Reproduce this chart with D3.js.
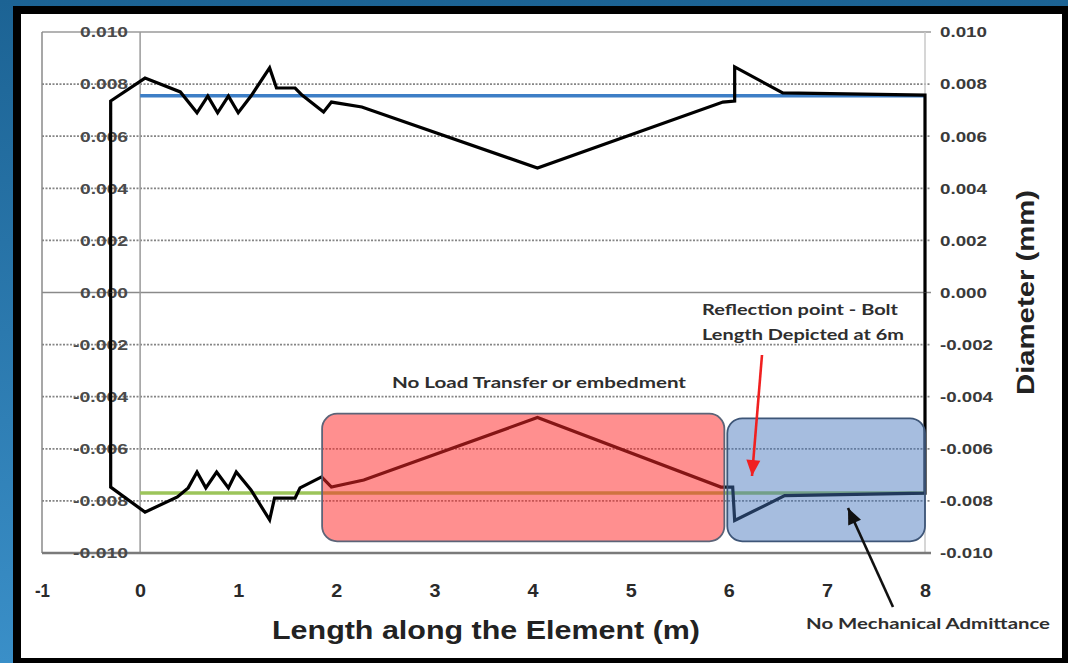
<!DOCTYPE html>
<html><head><meta charset="utf-8">
<script src="https://cdn.jsdelivr.net/npm/d3@7"></script>
<style>
html,body{margin:0;padding:0;background:#fff;}
svg{display:block;}
</style></head>
<body>
<svg id="chart" width="1068" height="663"></svg>
<script>
// ---- data ----
const xTicks = [-1, 0, 1, 2, 3, 4, 5, 6, 7, 8];
const yTicks = [-0.010, -0.008, -0.006, -0.004, -0.002, 0.000, 0.002, 0.004, 0.006, 0.008, 0.010];

const upperX = [-0.30, -0.30, 0.05, 0.41, 0.58, 0.69, 0.79, 0.90, 1.00, 1.13, 1.32, 1.39, 1.58, 1.65, 1.87, 1.95, 2.26, 4.05, 5.94, 6.06, 6.06, 6.55, 8.00, 8.00];
const upperY = [0.0000, 0.00735, 0.00823, 0.00770, 0.00690, 0.00754, 0.00690, 0.00754, 0.00690, 0.00754, 0.00862, 0.00785, 0.00785, 0.00758, 0.00693, 0.00731, 0.00712, 0.00478, 0.00731, 0.00735, 0.00866, 0.00766, 0.00758, 0.0000];

const lowerX = [-0.30, -0.30, 0.05, 0.38, 0.49, 0.58, 0.67, 0.78, 0.90, 0.98, 1.13, 1.32, 1.37, 1.58, 1.63, 1.85, 1.95, 2.28, 4.05, 5.92, 6.04, 6.06, 6.57, 8.00, 8.00];
const lowerY = [0.0000, -0.00747, -0.00843, -0.00785, -0.00750, -0.00689, -0.00750, -0.00689, -0.00750, -0.00689, -0.00758, -0.00873, -0.00789, -0.00789, -0.00750, -0.00708, -0.00747, -0.00720, -0.00480, -0.00747, -0.00747, -0.00875, -0.00780, -0.00770, 0.0000];

const blueX = [0, 8];
const blueY = [0.00755, 0.00755];
const greenX = [0, 8];
const greenY = [-0.00770, -0.00770];

// ---- layout ----
const svg = d3.select("#chart");
const W = 1068, H = 663;
const x = d3.scaleLinear().domain([-1, 8]).range([42, 925]);
const y = d3.scaleLinear().domain([-0.010, 0.010]).range([553, 32]);

// background
const defs = svg.append("defs");
const bg = defs.append("linearGradient").attr("id","bg").attr("x1",0).attr("y1",0).attr("x2",0).attr("y2",1);
bg.append("stop").attr("offset","0%").attr("stop-color","#1c6394");
bg.append("stop").attr("offset","100%").attr("stop-color","#3a8fc8");
svg.append("rect").attr("width",W).attr("height",H).attr("fill","url(#bg)");
svg.append("rect").attr("x",13).attr("y",6).attr("width",W-13).attr("height",H-6).attr("fill","#000");
svg.append("rect").attr("x",21).attr("y",14).attr("width",1041).attr("height",644).attr("fill","#fff");

// gridlines
const gridVals = yTicks.filter(v => Math.abs(v) > 1e-9 && Math.abs(Math.abs(v)-0.010) > 1e-9);
svg.append("g").selectAll("line").data(gridVals).join("line")
  .attr("x1", x(-1)).attr("x2", x(8) + 6)
  .attr("y1", d => y(d)).attr("y2", d => y(d))
  .attr("stroke","#858585").attr("stroke-width",1.8).attr("stroke-dasharray","2,1.5");

// plot borders / axes lines
svg.append("line").attr("x1",x(-1)).attr("x2",x(8)+6).attr("y1",y(0.010)).attr("y2",y(0.010)).attr("stroke","#9a9a9a").attr("stroke-width",1.5);
svg.append("line").attr("x1",x(-1)).attr("x2",x(8)+6).attr("y1",y(0)).attr("y2",y(0)).attr("stroke","#8a8a8a").attr("stroke-width",1.5);
svg.append("line").attr("x1",x(-1)).attr("x2",x(-1)).attr("y1",y(0.010)).attr("y2",y(-0.010)).attr("stroke","#8a8a8a").attr("stroke-width",1.5);
svg.append("line").attr("x1",x(0)).attr("x2",x(0)).attr("y1",y(0.010)).attr("y2",y(-0.010)).attr("stroke","#9a9a9a").attr("stroke-width",1.5);
svg.append("line").attr("x1",x(8)).attr("x2",x(8)).attr("y1",y(0.010)).attr("y2",y(-0.010)).attr("stroke","#c8c8c8").attr("stroke-width",1.5);
svg.append("line").attr("x1",x(-1)).attr("x2",x(8)+6).attr("y1",y(-0.010)).attr("y2",y(-0.010)).attr("stroke","#7a7a7a").attr("stroke-width",2.5);

// axes (labels)
const fmt = d => d.toFixed(3);
const tickFont = "'Liberation Sans', Arial, sans-serif";
const yl = svg.append("g").attr("transform",`translate(128,0)`)
  .call(d3.axisLeft(y).tickValues(yTicks).tickFormat(fmt).tickSize(0).tickPadding(0));
const yr = svg.append("g").attr("transform",`translate(940,0)`)
  .call(d3.axisRight(y).tickValues(yTicks).tickFormat(fmt).tickSize(0).tickPadding(0));
const xa = svg.append("g").attr("transform",`translate(0,584)`)
  .call(d3.axisBottom(x).tickValues(xTicks).tickFormat(d => String(d)).tickSize(0).tickPadding(0));
[yl, yr, xa].forEach(g => {
  g.select(".domain").remove();
  g.selectAll("text").attr("font-family", tickFont).attr("font-weight","bold").attr("fill","#3a3a3a");
});
yl.selectAll("text").attr("font-size",15).attr("fill","#4a4a4a")
  .attr("textLength", d => d < 0 ? 55 : 48).attr("lengthAdjust","spacingAndGlyphs");
yr.selectAll("text").attr("font-size",15)
  .attr("textLength", d => d < 0 ? 53 : 47).attr("lengthAdjust","spacingAndGlyphs");
xa.selectAll("text").attr("font-size",18).attr("fill","#2a2a2a")
  .attr("textLength", d => d < 0 ? 15 : 11).attr("lengthAdjust","spacingAndGlyphs");

// series
const line = d3.line().x(d => x(d[0])).y(d => y(d[1]));
const zip = (a, b) => a.map((v, i) => [v, b[i]]);
svg.append("path").datum(zip(greenX, greenY)).attr("d", line).attr("fill","none").attr("stroke","#9cc55a").attr("stroke-width",3.5);
svg.append("path").datum(zip(blueX, blueY)).attr("d", line).attr("fill","none").attr("stroke","#3d7ec6").attr("stroke-width",3.5);
svg.append("path").datum(zip(upperX, upperY)).attr("d", line).attr("fill","none").attr("stroke","#000").attr("stroke-width",3.2).attr("stroke-linejoin","miter");
svg.append("path").datum(zip(lowerX, lowerY)).attr("d", line).attr("fill","none").attr("stroke","#000").attr("stroke-width",3.2).attr("stroke-linejoin","miter");

// overlay boxes
const boxes = [
  {x0: 1.855, x1: 5.955, y0: -0.00465, y1: -0.00955, fill: "rgb(255,40,40)", op: 0.52, stroke: "#5c6478"},
  {x0: 5.985, x1: 8.0, y0: -0.00483, y1: -0.00955, fill: "rgb(70,118,188)", op: 0.48, stroke: "#3e5678"}
];
svg.append("g").selectAll("rect").data(boxes).join("rect")
  .attr("x", d => x(d.x0)).attr("y", d => y(d.y0))
  .attr("width", d => x(d.x1) - x(d.x0)).attr("height", d => y(d.y1) - y(d.y0))
  .attr("rx", 15).attr("ry", 15)
  .attr("fill", d => d.fill).attr("fill-opacity", d => d.op)
  .attr("stroke", d => d.stroke).attr("stroke-width", 1.8);

// annotations
const annFont = "Lato, 'Open Sans', sans-serif";
function ann(txt, x0, by, len, size) {
  svg.append("text").attr("x",x0).attr("y",by)
    .attr("font-family",annFont).attr("font-weight","bold").attr("font-size",size)
    .attr("textLength",len).attr("lengthAdjust","spacingAndGlyphs")
    .attr("fill","#2e2e2e").text(txt);
}
ann("No Load Transfer or embedment", 392, 388, 294, 16);
ann("Reflection point - Bolt", 702, 315, 196, 16);
ann("Length Depicted at 6m", 702, 340, 202, 16);
ann("No Mechanical Admittance", 806, 629, 244, 16);

// arrows
function arrow(x1, y1, x2, y2, color) {
  svg.append("line").attr("x1",x1).attr("y1",y1).attr("x2",x2).attr("y2",y2)
    .attr("stroke",color).attr("stroke-width",2.6);
  const ang = Math.atan2(y2 - y1, x2 - x1);
  const L = 16, Wd = 7;
  const bx = x2 - L*Math.cos(ang), by = y2 - L*Math.sin(ang);
  const px = -Math.sin(ang)*Wd, py = Math.cos(ang)*Wd;
  svg.append("path").attr("d",`M${x2},${y2}L${bx+px},${by+py}L${bx-px},${by-py}Z`).attr("fill",color);
}
arrow(762, 355, 752, 476, "#f02020");
arrow(893, 607, 848, 508, "#111");

// axis titles
svg.append("text").attr("x", 272).attr("y", 639)
  .attr("font-family", tickFont).attr("font-weight","bold").attr("font-size",25)
  .attr("textLength",428).attr("lengthAdjust","spacingAndGlyphs")
  .attr("fill","#222").text("Length along the Element  (m)");
svg.append("text").attr("transform","translate(1034,395) rotate(-90)")
  .attr("font-family", tickFont).attr("font-weight","bold").attr("font-size",24)
  .attr("textLength",205).attr("lengthAdjust","spacingAndGlyphs")
  .attr("fill","#222").text("Diameter (mm)");
</script>
</body></html>
